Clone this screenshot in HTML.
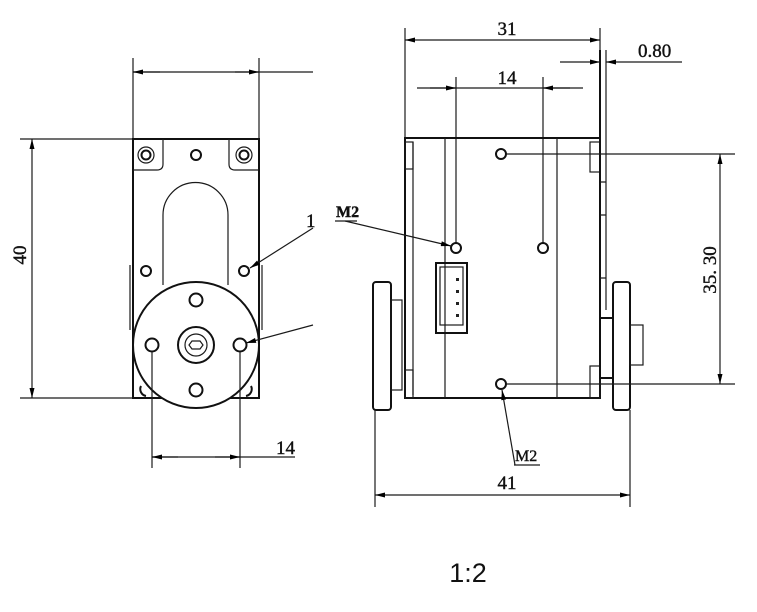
<!DOCTYPE html>
<html><head><meta charset="utf-8"><style>
html,body{margin:0;padding:0;background:#fff;}
svg{display:block;}
.l{stroke:#1a1a1a;stroke-width:1.2;fill:none;}
.t{stroke:#111;stroke-width:2;fill:none;}
.s{font-family:"Liberation Serif",serif;font-size:19px;fill:#111;stroke:#111;stroke-width:0.4;}
</style></head><body>
<svg width="757" height="612" viewBox="0 0 757 612" xmlns="http://www.w3.org/2000/svg">
<defs>
<marker id="a" viewBox="0 0 12 6" refX="12" refY="3" markerWidth="14" markerHeight="5" orient="auto-start-reverse" markerUnits="userSpaceOnUse"><path d="M0,0L12,3L0,6z" fill="#000"/></marker>
</defs>
<!-- LEFT VIEW -->
<line class="l" x1="133" y1="58" x2="133" y2="139"/>
<line class="l" x1="259" y1="58" x2="259" y2="139"/>
<line class="l" x1="133" y1="72" x2="313" y2="72"/>
<line class="l" x1="133" y1="72" x2="160" y2="72" marker-start="url(#a)"/>
<line class="l" x1="235" y1="72" x2="259" y2="72" marker-end="url(#a)"/>
<line class="l" x1="20" y1="139" x2="259" y2="139"/>
<line class="l" x1="20" y1="398" x2="133" y2="398"/>
<line class="l" x1="32" y1="139" x2="32" y2="398" marker-start="url(#a)" marker-end="url(#a)"/>
<text class="s" transform="translate(26,255) rotate(-90)" text-anchor="middle">40</text>
<rect class="t" x="133" y="139" width="126" height="259"/>
<path class="l" d="M133,170 H157 Q163,170 163,164 V139 M259,170 H235 Q229,170 229,164 V139"/>
<circle class="l" cx="146" cy="155" r="8"/><circle class="t" cx="146" cy="155" r="4.5"/>
<circle class="l" cx="244" cy="155" r="8"/><circle class="t" cx="244" cy="155" r="4.5"/>
<circle class="t" cx="196" cy="155" r="5"/>
<path class="l" d="M163,285 V215 A32.5,32.5 0 0 1 228,215 V285"/>
<circle class="t" cx="146" cy="271" r="5"/>
<circle class="t" cx="244" cy="271" r="5"/>
<line class="l" x1="130" y1="265" x2="130" y2="330"/>
<line class="l" x1="262" y1="265" x2="262" y2="330"/>
<circle class="t" cx="196" cy="345" r="63" style="fill:#fff"/>
<circle class="t" cx="196" cy="300" r="6.5"/>
<circle class="t" cx="152" cy="345" r="6.5"/>
<circle class="t" cx="240" cy="345" r="6.5"/>
<circle class="t" cx="196" cy="390" r="6.5"/>
<circle class="t" cx="196" cy="345" r="18"/>
<circle class="l" cx="196" cy="345" r="11"/>
<path class="l" d="M192,341 H200 L203,345 L200,349 H192 L189,345Z"/>
<path class="t" d="M141,386 A7,7 0 0 0 146,396 M251,386 A7,7 0 0 1 246,396"/>
<line class="l" x1="313" y1="228" x2="250" y2="268" marker-end="url(#a)"/>
<text class="s" x="306" y="227">1</text>
<line class="l" x1="313" y1="325" x2="246" y2="343" marker-end="url(#a)"/>
<line class="l" x1="152" y1="352" x2="152" y2="468"/>
<line class="l" x1="240" y1="352" x2="240" y2="468"/>
<line class="l" x1="152" y1="457" x2="295" y2="457"/>
<line class="l" x1="152" y1="457" x2="178" y2="457" marker-start="url(#a)"/>
<line class="l" x1="215" y1="457" x2="240" y2="457" marker-end="url(#a)"/>
<text class="s" x="276" y="454">14</text>
<!-- RIGHT VIEW -->
<line class="l" x1="405" y1="28" x2="405" y2="138"/>
<line class="l" x1="600" y1="28" x2="600" y2="138"/>
<line class="l" x1="405" y1="40" x2="600" y2="40" marker-start="url(#a)" marker-end="url(#a)"/>
<text class="s" x="507" y="35" text-anchor="middle">31</text>
<line class="l" x1="560" y1="62" x2="600" y2="62" marker-end="url(#a)"/>
<line class="l" x1="606" y1="62" x2="682" y2="62" marker-start="url(#a)"/>
<text class="s" x="638" y="57">0.80</text>
<line class="l" x1="417" y1="88" x2="583" y2="88"/>
<line class="l" x1="430" y1="88" x2="456" y2="88" marker-end="url(#a)"/>
<line class="l" x1="543" y1="88" x2="570" y2="88" marker-start="url(#a)"/>
<text class="s" x="507" y="84" text-anchor="middle">14</text>
<line class="l" x1="456" y1="77" x2="456" y2="243"/>
<line class="l" x1="543" y1="77" x2="543" y2="243"/>
<rect class="t" x="405" y="138" width="195" height="260"/>
<line class="l" x1="413" y1="142" x2="413" y2="395"/>
<rect class="l" x="405" y="142" width="8" height="27"/>
<rect class="l" x="405" y="370" width="8" height="28"/>
<line class="l" x1="445" y1="138" x2="445" y2="398"/>
<line class="l" x1="557" y1="138" x2="557" y2="398"/>
<rect class="l" x="590" y="142" width="10" height="30"/>
<rect class="l" x="590" y="366" width="10" height="32"/>
<path class="t" d="M600,50 V310"/><path class="l" d="M606,50 V310 M600,182 H606 M600,215 H606 M600,278 H606"/>
<circle class="t" cx="501" cy="154" r="5"/>
<circle class="t" cx="456" cy="248" r="5"/>
<circle class="t" cx="543" cy="248" r="5"/>
<circle class="t" cx="501" cy="384" r="5"/>
<rect class="t" x="436" y="263" width="31" height="70"/>
<rect class="l" x="440" y="267" width="23" height="58"/>
<g fill="#222"><rect x="456" y="278" width="3" height="3"/><rect x="456" y="290" width="3" height="3"/><rect x="456" y="302" width="3" height="3"/><rect x="456" y="314" width="3" height="3"/></g>
<rect class="t" x="373" y="282" width="18" height="128" rx="3"/>
<rect class="l" x="391" y="300" width="11" height="90"/>
<rect class="t" x="613" y="282" width="17" height="128" rx="3"/>
<rect class="t" x="600" y="318" width="13" height="60"/>
<rect class="l" x="630" y="325" width="13" height="40"/>
<line class="l" x1="506" y1="154" x2="735" y2="154"/>
<line class="l" x1="506" y1="384" x2="735" y2="384"/>
<line class="l" x1="720" y1="154" x2="720" y2="384" marker-start="url(#a)" marker-end="url(#a)"/>
<text class="s" transform="translate(716,270) rotate(-90)" text-anchor="middle">35. 30</text>
<text class="s" x="336" y="217" style="font-weight:bold;font-size:16px">M2</text>
<line class="l" x1="335" y1="221" x2="357" y2="221"/>
<line class="l" x1="345" y1="221" x2="451" y2="246" marker-end="url(#a)"/>
<line class="l" x1="515" y1="465" x2="502" y2="390" marker-end="url(#a)"/>
<text class="s" x="515" y="461" style="font-size:16px">M2</text>
<line class="l" x1="514" y1="465" x2="540" y2="465"/>
<line class="l" x1="375" y1="410" x2="375" y2="507"/>
<line class="l" x1="630" y1="410" x2="630" y2="507"/>
<line class="l" x1="375" y1="495" x2="630" y2="495" marker-start="url(#a)" marker-end="url(#a)"/>
<text class="s" x="507" y="489" text-anchor="middle">41</text>
<text x="468" y="582" text-anchor="middle" style="font-family:'Liberation Sans',sans-serif;font-size:27px;fill:#111">1:2</text>
</svg>
</body></html>
